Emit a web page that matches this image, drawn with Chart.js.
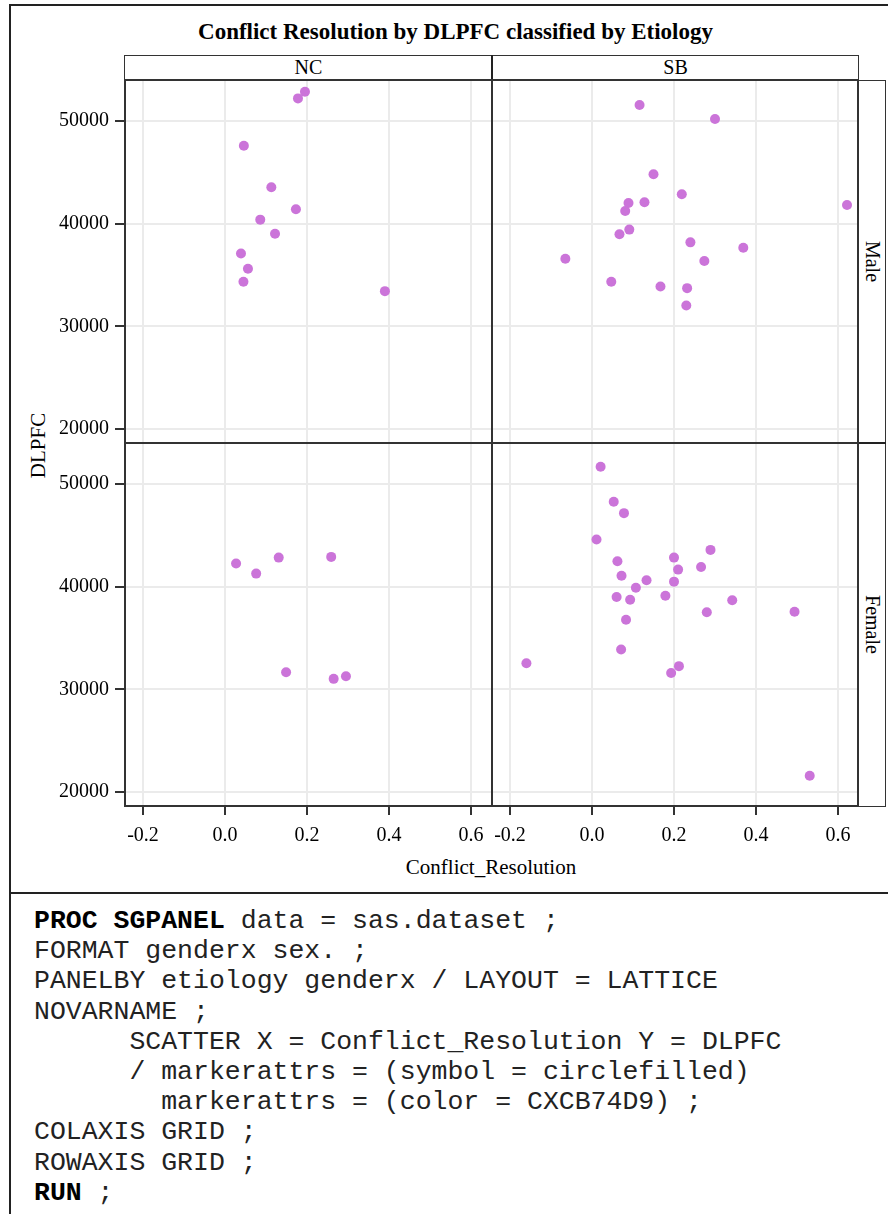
<!DOCTYPE html>
<html>
<head>
<meta charset="utf-8">
<script src="https://cdn.jsdelivr.net/npm/chart.js@4.4.1/dist/chart.umd.min.js"></script>
<style>
body { margin: 0; background: #fff; }
#page { position: relative; width: 888px; height: 1214px; overflow: hidden; background: #fff;
        font-family: "Liberation Serif", "Times New Roman", serif; color: #000; }
.abs { position: absolute; }
canvas { position: absolute; }
.line { position: absolute; background: #222; }
.strip { position: absolute; border: 1.5px solid #333; box-sizing: border-box; }
.lbl { position: absolute; font-size: 20px; white-space: nowrap; }
#code { position: absolute; left: 34px; top: 906px; font-family: "Liberation Mono", "Courier New", monospace;
        font-size: 26.5px; line-height: 30.2px; white-space: pre; color: #222; }
#code b { font-weight: bold; color: #000; }
</style>
</head>
<body>
<div id="page">
  <!-- outer frame -->
  <div class="line" style="left:9px;top:4px;width:879px;height:2px;"></div>
  <div class="line" style="left:9px;top:4px;width:2px;height:1210px;"></div>
  <div class="line" style="left:9px;top:892px;width:879px;height:2px;"></div>

  <div class="abs" style="left:0;top:19px;width:911px;text-align:center;font-weight:bold;font-size:23px;">Conflict Resolution by DLPFC classified by Etiology</div>

  <!-- column strips -->
  <div class="strip" style="left:124px;top:55px;width:735px;height:26px;"></div>
  <div class="line" style="left:491px;top:55px;width:2px;height:26px;"></div>
  <div class="lbl" id="colLbl0" style="left:125px;top:56px;width:367px;text-align:center;"></div>
  <div class="lbl" id="colLbl1" style="left:492px;top:56px;width:367px;text-align:center;"></div>

  <!-- row strips -->
  <div class="strip" style="left:858px;top:80px;width:28px;height:727px;"></div>
  <div class="line" style="left:858px;top:442px;width:28px;height:2px;"></div>
  <div class="lbl" id="rowLbl0" style="left:822px;top:250px;width:100px;text-align:center;transform:rotate(90deg);"></div>
  <div class="lbl" id="rowLbl1" style="left:822px;top:613px;width:100px;text-align:center;transform:rotate(90deg);"></div>

  <div class="lbl" style="left:-12px;top:433px;width:100px;text-align:center;transform:rotate(-90deg);font-size:21px;">DLPFC</div>
  <div class="lbl" style="left:391px;top:855px;width:200px;text-align:center;font-size:21px;">Conflict_Resolution</div>

  <div id="charts"></div>

  <!-- panel frames -->
  <div class="abs" style="left:124px;top:79px;width:735px;height:728px;border:2px solid #333;box-sizing:border-box;"></div>
  <div class="line" style="left:491px;top:80px;width:2px;height:726px;background:#333;"></div>
  <div class="line" style="left:125px;top:442px;width:733px;height:2px;background:#333;"></div>

  <div id="code"><b>PROC SGPANEL</b> data = sas.dataset ;
FORMAT genderx sex. ;
PANELBY etiology genderx / LAYOUT = LATTICE
NOVARNAME ;
      SCATTER X = Conflict_Resolution Y = DLPFC
      / markerattrs = (symbol = circlefilled)
        markerattrs = (color = CXCB74D9) ;
COLAXIS GRID ;
ROWAXIS GRID ;
<b>RUN</b> ;</div>
</div>

<script>
// 패널 구분
var etiologies = ['NC', 'SB'];
var genders = ['Male', 'Female'];

// 축 눈금
var xTicks = [-0.2, 0.0, 0.2, 0.4, 0.6];
var yTicks = [20000, 30000, 40000, 50000];

// NC / Male
var ncMaleCR    = [0.195, 0.178, 0.046, 0.113, 0.173, 0.086, 0.122, 0.039, 0.056, 0.045, 0.390];
var ncMaleDLPFC = [52860, 52210, 47590, 43560, 41410, 40400, 39030, 37110, 35620, 34350, 33440];

// SB / Male
var sbMaleCR    = [0.116, 0.300, 0.150, 0.219, 0.089, 0.128, 0.081, 0.622, 0.091, 0.067, 0.240, 0.369, -0.065, 0.274, 0.047, 0.167, 0.232, 0.230];
var sbMaleDLPFC = [51560, 50200, 44830, 42870, 42030, 42090, 41250, 41830, 39430, 38970, 38190, 37670, 36590, 36370, 34350, 33890, 33730, 32040];

// NC / Female
var ncFemaleCR    = [0.027, 0.076, 0.131, 0.259, 0.149, 0.265, 0.295];
var ncFemaleDLPFC = [42260, 41280, 42840, 42910, 31680, 31030, 31290];

// SB / Female
var sbFemaleCR    = [0.021, 0.053, 0.078, 0.011, 0.289, 0.062, 0.200, 0.210, 0.266, 0.072, 0.133, 0.200, 0.107, 0.179, 0.060, 0.093, 0.342, 0.280, 0.494, 0.083, 0.071, -0.160, 0.212, 0.193, 0.531];
var sbFemaleDLPFC = [51690, 48280, 47170, 44600, 43590, 42480, 42840, 41670, 41930, 41080, 40630, 40500, 39910, 39130, 39000, 38740, 38680, 37510, 37570, 36790, 33890, 32560, 32270, 31610, 21590];

var xMin = -0.2439, xMax = 0.6512;
var yMin = 18650, yMax = 54000;

var PANEL_W = 367, PANEL_H = 363;
var AXIS_W = 80, AXIS_H = 45;
var panelLeft = [125, 492];
var panelTop = [80, 443];
var markerColor = '#CB74D9';
var fontFamily = '"Liberation Serif", "Times New Roman", serif';

document.getElementById('colLbl0').textContent = etiologies[0];
document.getElementById('colLbl1').textContent = etiologies[1];
document.getElementById('rowLbl0').textContent = genders[0];
document.getElementById('rowLbl1').textContent = genders[1];

function toPoints(xs, ys) {
    return xs.map(function (x, i) { return {x: x, y: ys[i]}; });
}

function makePanel(col, row, xs, ys) {
    var showY = col == 0;
    var showX = row == 1;
    var cv = document.createElement('canvas');
    var w = PANEL_W + (showY ? AXIS_W : 0);
    var h = PANEL_H + (showX ? AXIS_H : 0);
    cv.width = w;
    cv.height = h;
    cv.style.width = w + 'px';
    cv.style.height = h + 'px';
    cv.style.left = (panelLeft[col] - (showY ? AXIS_W : 0)) + 'px';
    cv.style.top = panelTop[row] + 'px';
    document.getElementById('charts').appendChild(cv);

    new Chart(cv.getContext('2d'), {
        type: 'scatter',
        data: {
            datasets: [{
                data: toPoints(xs, ys),
                backgroundColor: markerColor,
                borderWidth: 0,
                pointRadius: 5,
                pointHoverRadius: 5
            }]
        },
        options: {
            responsive: false,
            animation: false,
            events: [],
            layout: {padding: 0, autoPadding: false},
            plugins: {legend: {display: false}, tooltip: {enabled: false}},
            scales: {
                x: {
                    type: 'linear',
                    min: xMin,
                    max: xMax,
                    afterBuildTicks: function (s) { s.ticks = xTicks.map(function (v) { return {value: v}; }); },
                    afterFit: function (s) {
                        s.height = showX ? AXIS_H : 0;
                        s.paddingLeft = 0;
                        s.paddingRight = 0;
                    },
                    border: {display: false},
                    grid: {color: '#ebebeb', lineWidth: 2, drawTicks: showX, tickLength: 9, tickColor: '#333', tickWidth: 2},
                    ticks: {
                        display: showX,
                        color: '#000',
                        padding: 9,
                        maxRotation: 0,
                        autoSkip: false,
                        font: {family: fontFamily, size: 20},
                        callback: function (v) { return v.toFixed(1); }
                    }
                },
                y: {
                    type: 'linear',
                    min: yMin,
                    max: yMax,
                    afterBuildTicks: function (s) { s.ticks = yTicks.map(function (v) { return {value: v}; }); },
                    afterFit: function (s) {
                        s.width = showY ? AXIS_W : 0;
                        s.paddingTop = 0;
                        s.paddingBottom = 0;
                    },
                    border: {display: false},
                    grid: {color: '#ebebeb', lineWidth: 2, drawTicks: showY, tickLength: 10, tickColor: '#333', tickWidth: 2},
                    ticks: {
                        display: showY,
                        color: '#000',
                        padding: 6,
                        autoSkip: false,
                        font: {family: fontFamily, size: 20},
                        callback: function (v) { return String(v); }
                    }
                }
            }
        }
    });
}

makePanel(0, 0, ncMaleCR, ncMaleDLPFC);
makePanel(1, 0, sbMaleCR, sbMaleDLPFC);
makePanel(0, 1, ncFemaleCR, ncFemaleDLPFC);
makePanel(1, 1, sbFemaleCR, sbFemaleDLPFC);
</script>
</body>
</html>
